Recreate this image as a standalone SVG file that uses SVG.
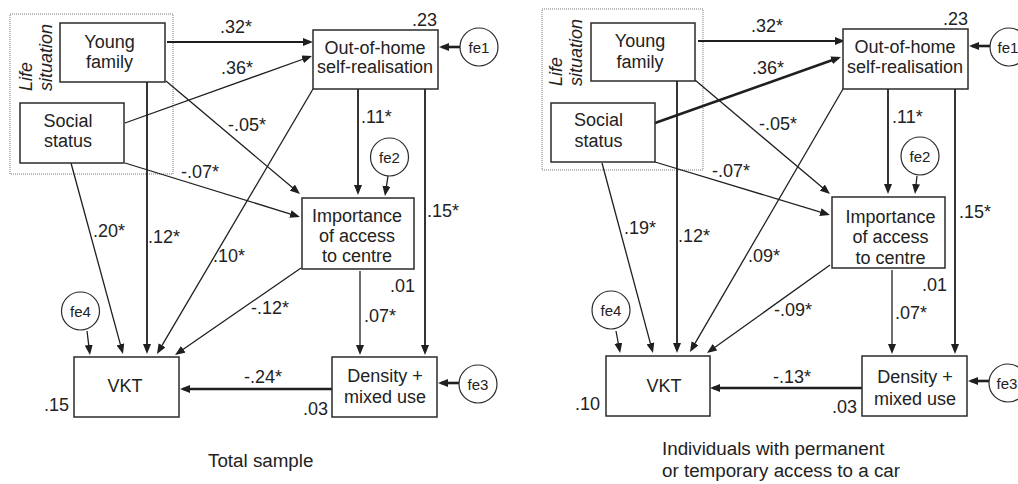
<svg xmlns="http://www.w3.org/2000/svg" width="1018" height="484" viewBox="0 0 1018 484">
  <style>
    text { font-family: "Liberation Sans", Arial, Helvetica, sans-serif; fill: #222; }
    .node { font-size: 18px; text-anchor: middle; }
    .lbl { font-size: 18px; }
    .err { font-size: 15px; text-anchor: middle; }
    .cap { font-size: 18.8px; }
    .grp { font-size: 18px; font-style: italic; }
    .box { fill: #fff; stroke: #2b2b2b; stroke-width: 1.5; }
    .circ { fill: #fff; stroke: #2b2b2b; stroke-width: 1.2; }
    .frame { fill: none; stroke: #7a7a7a; stroke-width: 1; stroke-dasharray: 1 1; }
    .c { fill: none; stroke: #1f1f1f; marker-end: url(#ah); }
    .thin { stroke-width: 1.3; }
    .mid { stroke-width: 1.8; }
    .thick { stroke-width: 2.6; }
  </style>
  <defs>
    <marker id="ah" markerUnits="userSpaceOnUse" markerWidth="10" markerHeight="8" refX="7" refY="4" orient="auto">
      <path d="M0,0 L10,4 L0,8 z" fill="#1f1f1f"/>
    </marker>
  </defs>

  <!-- ===== Panel 1: total sample ===== -->
  <g id="life-situation-1">
    <rect class="frame" x="10" y="14" width="163" height="160"/>
    <text class="grp" transform="translate(32,91) rotate(-90)">Life</text>
    <text class="grp" transform="translate(52,91) rotate(-90)">situation</text>
  </g>

  <g id="connectors-1">
    <line class="c mid" x1="167" y1="42" x2="310" y2="42"/>
    <line class="c thin" x1="125" y1="123" x2="309.2" y2="57"/>
    <line class="c thin" x1="166" y1="81" x2="297.7" y2="192.1"/>
    <line class="c thin" x1="125" y1="163" x2="297.1" y2="216.1"/>
    <line class="c thin" x1="71" y1="163" x2="122.2" y2="351.1"/>
    <line class="c mid" x1="147" y1="82" x2="147" y2="351"/>
    <line class="c thin" x1="313" y1="89" x2="158.5" y2="351.4"/>
    <line class="c thin" x1="301" y1="268" x2="177.5" y2="353.3"/>
    <line class="c thick" x1="332" y1="389" x2="183" y2="389"/>
    <line class="c mid" x1="358" y1="89" x2="358" y2="192"/>
    <line class="c mid" x1="425" y1="89" x2="425" y2="352"/>
    <line class="c thin" x1="360" y1="271" x2="360" y2="352"/>
    <line class="c thick" x1="460" y1="47" x2="442" y2="47"/>
    <line class="c thin" x1="388" y1="176" x2="385.4" y2="193"/>
    <line class="c thick" x1="459" y1="383" x2="441" y2="383"/>
    <line class="c thin" x1="87" y1="331" x2="89.6" y2="352"/>
  </g>

  <g id="young-family-1">
    <rect class="box" x="60" y="23" width="105" height="59"/>
    <text class="node" x="109.5" y="48">Young</text>
    <text class="node" x="109.5" y="68">family</text>
  </g>
  <g id="social-status-1">
    <rect class="box" x="20" y="103" width="104" height="60"/>
    <text class="node" x="68" y="127">Social</text>
    <text class="node" x="68" y="147">status</text>
  </g>
  <g id="out-of-home-1">
    <rect class="box" x="313" y="30" width="125" height="59"/>
    <text class="node" x="375" y="54">Out-of-home</text>
    <text class="node" x="375" y="73">self-realisation</text>
  </g>
  <g id="importance-1">
    <rect class="box" x="302" y="198" width="112" height="71"/>
    <text class="node" x="357" y="222">Importance</text>
    <text class="node" x="357" y="242">of access</text>
    <text class="node" x="357" y="262">to centre</text>
  </g>
  <g id="density-1">
    <rect class="box" x="332" y="357" width="105" height="60"/>
    <text class="node" x="385" y="382">Density +</text>
    <text class="node" x="385" y="403">mixed use</text>
  </g>
  <g id="vkt-1">
    <rect class="box" x="74" y="357" width="105" height="60"/>
    <text class="node" x="125" y="392">VKT</text>
  </g>
  <g id="fe1-1">
    <circle class="circ" cx="479" cy="47" r="19"/>
    <text class="err" x="479" y="53">fe1</text>
  </g>
  <g id="fe2-1">
    <circle class="circ" cx="389.5" cy="157" r="19"/>
    <text class="err" x="389.5" y="163">fe2</text>
  </g>
  <g id="fe3-1">
    <circle class="circ" cx="478" cy="384" r="19"/>
    <text class="err" x="478" y="390">fe3</text>
  </g>
  <g id="fe4-1">
    <circle class="circ" cx="80.5" cy="311" r="19"/>
    <text class="err" x="80.5" y="317">fe4</text>
  </g>

  <g id="labels-1" class="lbl">
    <text x="220" y="33">.32*</text>
    <text x="221" y="74">.36*</text>
    <text x="228" y="131">-.05*</text>
    <text x="181" y="178">-.07*</text>
    <text x="93" y="237">.20*</text>
    <text x="148" y="243">.12*</text>
    <text x="213" y="262">.10*</text>
    <text x="251" y="314">-.12*</text>
    <text x="244" y="383">-.24*</text>
    <text x="361" y="123">.11*</text>
    <text x="427" y="217">.15*</text>
    <text x="390" y="292">.01</text>
    <text x="364" y="322">.07*</text>
    <text x="412" y="26">.23</text>
    <text x="44" y="411">.15</text>
    <text x="303" y="415">.03</text>
  </g>
  <text class="cap" x="208" y="467">Total sample</text>

  <!-- ===== Panel 2: individuals with car access ===== -->
  <g id="life-situation-2">
    <rect class="frame" x="542" y="9" width="161" height="161"/>
    <text class="grp" transform="translate(562,86) rotate(-90)">Life</text>
    <text class="grp" transform="translate(582,86) rotate(-90)">situation</text>
  </g>

  <g id="connectors-2">
    <line class="c mid" x1="698" y1="41" x2="842" y2="41"/>
    <line class="c thick" x1="655" y1="123" x2="838.2" y2="58"/>
    <line class="c thin" x1="695" y1="80" x2="827.7" y2="192.1"/>
    <line class="c thin" x1="655" y1="162" x2="827.1" y2="214.1"/>
    <line class="c thin" x1="602" y1="163" x2="652.2" y2="350.1"/>
    <line class="c mid" x1="677" y1="81" x2="677" y2="350"/>
    <line class="c thin" x1="843" y1="89" x2="691.5" y2="349.4"/>
    <line class="c thin" x1="830" y1="265" x2="709.4" y2="351.3"/>
    <line class="c thick" x1="862" y1="388" x2="713" y2="388"/>
    <line class="c mid" x1="888" y1="89" x2="888" y2="191"/>
    <line class="c mid" x1="955" y1="89" x2="955" y2="351"/>
    <line class="c thin" x1="892" y1="270" x2="892" y2="351"/>
    <line class="c thick" x1="990" y1="46" x2="972" y2="46"/>
    <line class="c thin" x1="917" y1="176" x2="915.3" y2="191"/>
    <line class="c thick" x1="989" y1="381" x2="971" y2="381"/>
    <line class="c thin" x1="616" y1="331" x2="619.6" y2="350"/>
  </g>

  <g id="young-family-2">
    <rect class="box" x="591" y="23" width="104" height="58"/>
    <text class="node" x="640" y="47">Young</text>
    <text class="node" x="640" y="68">family</text>
  </g>
  <g id="social-status-2">
    <rect class="box" x="551" y="103" width="104" height="59"/>
    <text class="node" x="598.5" y="126">Social</text>
    <text class="node" x="598.5" y="147">status</text>
  </g>
  <g id="out-of-home-2">
    <rect class="box" x="843" y="29" width="125" height="60"/>
    <text class="node" x="905" y="53">Out-of-home</text>
    <text class="node" x="905" y="73">self-realisation</text>
  </g>
  <g id="importance-2">
    <rect class="box" x="832" y="197" width="113" height="71"/>
    <text class="node" x="890.5" y="223">Importance</text>
    <text class="node" x="890.5" y="243">of access</text>
    <text class="node" x="890.5" y="264">to centre</text>
  </g>
  <g id="density-2">
    <rect class="box" x="862" y="356" width="105" height="60"/>
    <text class="node" x="915" y="383">Density +</text>
    <text class="node" x="915" y="405">mixed use</text>
  </g>
  <g id="vkt-2">
    <rect class="box" x="606" y="356" width="104" height="60"/>
    <text class="node" x="664" y="392">VKT</text>
  </g>
  <g id="fe1-2">
    <circle class="circ" cx="1009" cy="47" r="19"/>
    <text class="err" x="1008" y="53">fe1</text>
  </g>
  <g id="fe2-2">
    <circle class="circ" cx="920" cy="156" r="19"/>
    <text class="err" x="920" y="162">fe2</text>
  </g>
  <g id="fe3-2">
    <circle class="circ" cx="1008" cy="383" r="19"/>
    <text class="err" x="1007" y="389">fe3</text>
  </g>
  <g id="fe4-2">
    <circle class="circ" cx="611" cy="310" r="19"/>
    <text class="err" x="611" y="316">fe4</text>
  </g>

  <g id="labels-2" class="lbl">
    <text x="751" y="32">.32*</text>
    <text x="752" y="74">.36*</text>
    <text x="759" y="130">-.05*</text>
    <text x="712" y="177">-.07*</text>
    <text x="624" y="234">.19*</text>
    <text x="678" y="242">.12*</text>
    <text x="748" y="262">.09*</text>
    <text x="774" y="316">-.09*</text>
    <text x="773" y="383">-.13*</text>
    <text x="892" y="123">.11*</text>
    <text x="959" y="218">.15*</text>
    <text x="922" y="291">.01</text>
    <text x="895" y="319">.07*</text>
    <text x="943" y="25">.23</text>
    <text x="575" y="410">.10</text>
    <text x="832" y="413">.03</text>
  </g>
  <text class="cap" x="662" y="455">Individuals with permanent</text>
  <text class="cap" x="662" y="477">or temporary access to a car</text>
</svg>
